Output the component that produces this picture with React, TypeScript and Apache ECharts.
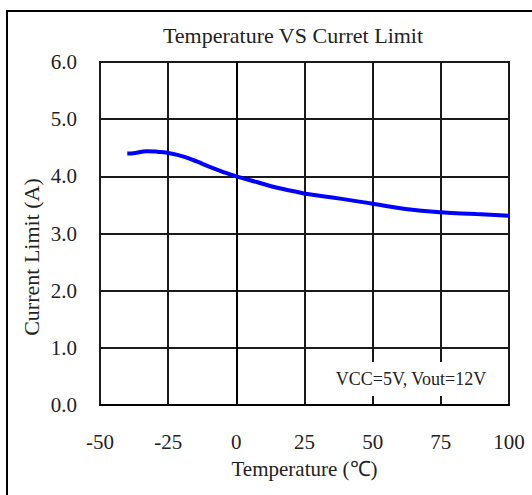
import React, { useEffect, useRef } from "react";
import * as echarts from "echarts";

const temperature = [-40, -37, -33, -29, -24, -19, -14.5, -10, -5, 0, 7.5, 15, 22, 26, 38, 50, 62, 75, 88, 100];
const currentLimit = [4.4, 4.41, 4.44, 4.43, 4.4, 4.34, 4.26, 4.17, 4.08, 4.0, 3.9, 3.8, 3.73, 3.69, 3.61, 3.52, 3.43, 3.37, 3.34, 3.31];

const titleText = "Temperature VS Curret Limit";
const xName = "Temperature (℃)";
const yName = "Current Limit (A)";
const noteText = "VCC=5V, Vout=12V";

const FONT = "'Liberation Serif', 'Times New Roman', serif";

export default function App() {
  const ref = useRef<HTMLDivElement>(null);
  useEffect(() => {
    document.body.style.margin = "0";
    const chart = echarts.init(ref.current!, null, { renderer: "svg" });
    chart.setOption({
      animation: false,
      backgroundColor: "#fff",
      grid: {
        left: 100,
        top: 62,
        width: 409,
        height: 343,
        show: true,
        borderColor: "#000",
        borderWidth: 2,
        backgroundColor: "transparent",
      },
      xAxis: {
        type: "value",
        min: -50,
        max: 100,
        interval: 25,
        name: xName,
        nameLocation: "middle",
        nameGap: 53,
        nameTextStyle: { color: "#222", fontFamily: FONT, fontSize: 21 },
        axisLine: { show: true, onZero: false, lineStyle: { color: "#000", width: 2 } },
        axisTick: { show: false },
        axisLabel: { color: "#222", fontFamily: FONT, fontSize: 21, margin: 26 },
        splitLine: { show: true, lineStyle: { color: "#1a1a1a", width: 2 } },
      },
      yAxis: {
        type: "value",
        min: 0,
        max: 6,
        interval: 1,
        axisLine: { show: true, lineStyle: { color: "#000", width: 2 } },
        axisTick: { show: false },
        axisLabel: {
          color: "#222",
          fontFamily: FONT,
          fontSize: 21,
          margin: 23,
          formatter: (v: number) => v.toFixed(1),
        },
        splitLine: { show: true, lineStyle: { color: "#1a1a1a", width: 2 } },
      },
      series: [
        {
          type: "line",
          data: temperature.map((t, i) => [t, currentLimit[i]]),
          smooth: true,
          showSymbol: false,
          lineStyle: { color: "#0000ff", width: 4 },
          z: 3,
        },
      ],
      graphic: [
        {
          type: "rect",
          z: 100,
          shape: { x: 7, y: 11, width: 540, height: 500 },
          style: { fill: "none", stroke: "#000", lineWidth: 2 },
        },
        {
          type: "text",
          z: 100,
          x: 293,
          y: 35,
          style: {
            text: titleText,
            fill: "#222",
            font: `22px ${FONT}`,
            align: "center",
            verticalAlign: "middle",
          },
        },
        {
          type: "text",
          z: 100,
          x: 31,
          y: 257,
          rotation: Math.PI / 2,
          style: {
            text: yName,
            fill: "#222",
            font: `22px ${FONT}`,
            align: "center",
            verticalAlign: "middle",
          },
        },
        {
          type: "text",
          z: 100,
          x: 411,
          y: 379,
          style: {
            text: noteText,
            fill: "#222",
            font: `18px ${FONT}`,
            align: "center",
            verticalAlign: "middle",
            backgroundColor: "#fff",
            padding: [8, 4, 8, 4],
          },
        },
      ],
    });
    return () => chart.dispose();
  }, []);
  return <div ref={ref} style={{ width: 532, height: 495 }} />;
}
